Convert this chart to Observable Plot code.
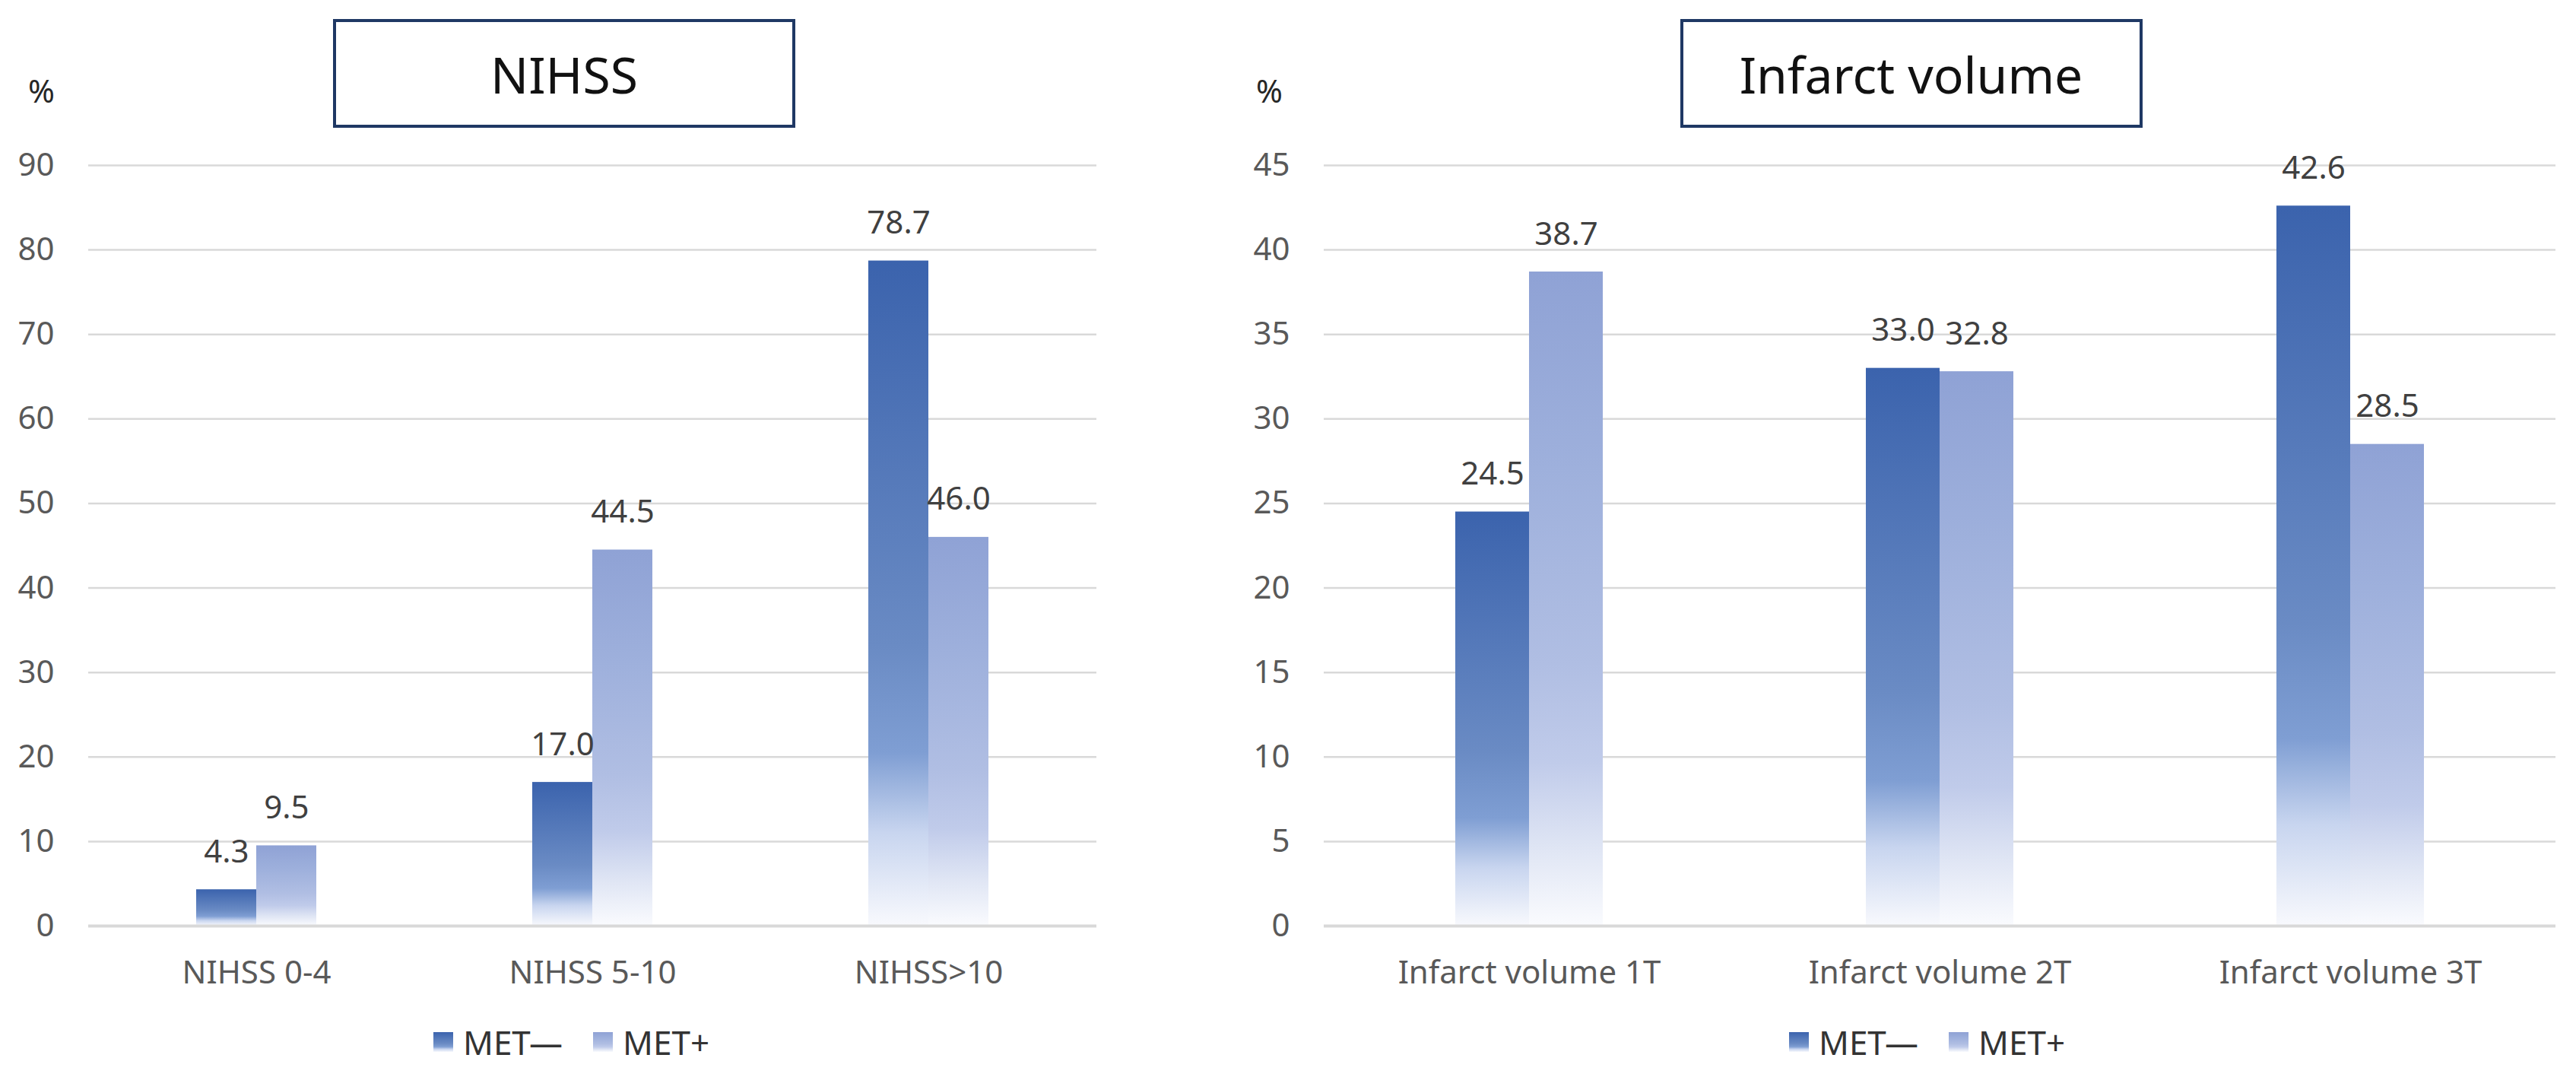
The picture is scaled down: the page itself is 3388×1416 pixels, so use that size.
<!DOCTYPE html>
<html>
<head>
<meta charset="utf-8">
<script src="https://cdn.jsdelivr.net/npm/d3@7"></script>
<script src="https://cdn.jsdelivr.net/npm/@observablehq/plot@0.6"></script>
<style>
  body { margin: 0; background: #fff; font-family: "Noto Sans", sans-serif; }
  #root { position: relative; width: 3388px; height: 1416px; overflow: hidden; }
  .panel { position: absolute; top: 0; height: 1416px; }
  .header { position: relative; height: 180px; }
  .titlebox { position: absolute; top: 25px; width: 608px; height: 143px; box-sizing: border-box;
    border: 4px solid #1f3864; display: flex; align-items: center; justify-content: center;
    font-size: 66px; color: #111; line-height: 1; }
  .pct { position: absolute; top: 98px; font-size: 42px; line-height: 1; color: #262626; }
  .legend { position: absolute; top: 1348px; display: flex; align-items: center; font-size: 44px;
    line-height: 1; color: #333; white-space: nowrap; }
  .sw { width: 26px; height: 26px; margin-right: 13px; }
  .item { display: flex; align-items: center; margin-right: 40px; }
  svg { display: block; }
</style>
</head>
<body>
<div id="root"></div>
<script>
// ---- data ----
const series = ["MET—", "MET+"];
const nihssCategories = ["NIHSS 0-4", "NIHSS 5-10", "NIHSS>10"];
const nihssMetNeg = [4.3, 17.0, 78.7];
const nihssMetPos = [9.5, 44.5, 46.0];
const nihssTicks = [0, 10, 20, 30, 40, 50, 60, 70, 80, 90];
const infarctCategories = ["Infarct volume 1T", "Infarct volume 2T", "Infarct volume 3T"];
const infarctMetNeg = [24.5, 33.0, 42.6];
const infarctMetPos = [38.7, 32.8, 28.5];
const infarctTicks = [0, 5, 10, 15, 20, 25, 30, 35, 40, 45];

// ---- gradient styles ----
const negStops = [[0, "#3b63ad"], [0.58, "#6a8bc4"], [0.74, "#7f9ed3"], [0.86, "#c8d5ef"], [1, "#f8f9fd"]];
const posStops = [[0, "#8fa2d5"], [0.3, "#9eb0dc"], [0.6, "#b0bee3"], [0.75, "#c0cbea"], [0.88, "#dfe5f4"], [1, "#fafbfe"]];

function addDefs(svg, prefix) {
  const defs = d3.select(svg).insert("defs", ":first-child");
  [["neg", negStops], ["pos", posStops]].forEach(([k, stops]) => {
    const g = defs.append("linearGradient").attr("id", `${prefix}-${k}`)
      .attr("x1", 0).attr("y1", 0).attr("x2", 0).attr("y2", 1);
    stops.forEach(([o, c]) => g.append("stop").attr("offset", o).attr("stop-color", c));
  });
}
const cssGrad = stops => `linear-gradient(to bottom, ${stops.map(([o, c]) => `${c} ${o * 100}%`).join(", ")})`;

function makePanel(cfg) {
  const { cats, neg, pos, ticks, yMax, title, left, width, marginLeft, marginRight, pctLeft, legendLeft, prefix } = cfg;
  const rows = cats.flatMap((c, i) => [
    { category: c, series: series[0], value: neg[i] },
    { category: c, series: series[1], value: pos[i] }
  ]);
  const panel = document.createElement("div");
  panel.className = "panel";
  panel.style.left = left + "px";
  panel.style.width = width + "px";

  const header = document.createElement("div");
  header.className = "header";
  const tb = document.createElement("div");
  tb.className = "titlebox";
  tb.textContent = title;
  // centre of box slightly left of plot centre, as in the reference
  const plotCenter = marginLeft + (width - marginLeft - marginRight) / 2;
  tb.style.left = (plotCenter - 37 - 304) + "px";
  header.appendChild(tb);
  const pct = document.createElement("div");
  pct.className = "pct";
  pct.textContent = "%";
  pct.style.left = pctLeft + "px";
  header.appendChild(pct);
  panel.appendChild(header);

  const svg = Plot.plot({
    width,
    height: 1140,
    marginTop: 37,
    marginBottom: 103,
    marginLeft,
    marginRight,
    style: { fontFamily: "'Noto Sans', sans-serif", fontSize: "42px", color: "#595959", background: "transparent", overflow: "visible" },
    fx: { domain: cats, padding: 0, label: null, tickSize: 0, tickPadding: 46, axis: "bottom" },
    x: { domain: series, paddingInner: 0, paddingOuter: 1.77, axis: null },
    y: { domain: [0, yMax] },
    marks: [
      Plot.gridY(ticks, { stroke: "#d9d9d9", strokeOpacity: 1, strokeWidth: 2.5 }),
      Plot.axisY(ticks, { tickSize: 0, tickPadding: 45, label: null, fill: "#595959" }),
      Plot.barY(rows, { filter: d => d.series === series[0], fx: "category", x: "series", y: "value", fill: `url(#${prefix}-neg)` }),
      Plot.barY(rows, { filter: d => d.series === series[1], fx: "category", x: "series", y: "value", fill: `url(#${prefix}-pos)` }),
      Plot.ruleY([0], { stroke: "#d9d9d9", strokeWidth: 4 }),
      Plot.text(rows, { fx: "category", x: "series", y: "value", text: d => d.value.toFixed(1),
        dy: -36, lineAnchor: "bottom", fontSize: 42, fill: "#404040" })
    ]
  });
  addDefs(svg, prefix);
  panel.appendChild(svg);

  const legend = document.createElement("div");
  legend.className = "legend";
  legend.style.left = legendLeft + "px";
  [[series[0], negStops], [series[1], posStops]].forEach(([name, stops]) => {
    const it = document.createElement("div");
    it.className = "item";
    const sw = document.createElement("div");
    sw.className = "sw";
    sw.style.background = cssGrad(stops);
    const tx = document.createElement("span");
    tx.textContent = name;
    it.appendChild(sw); it.appendChild(tx);
    legend.appendChild(it);
  });
  panel.appendChild(legend);
  document.getElementById("root").appendChild(panel);
}

makePanel({ cats: nihssCategories, neg: nihssMetNeg, pos: nihssMetPos, ticks: nihssTicks, yMax: 90,
  title: "NIHSS", left: 0, width: 1620, marginLeft: 116, marginRight: 178, pctLeft: 37, legendLeft: 570, prefix: "g1" });
makePanel({ cats: infarctCategories, neg: infarctMetNeg, pos: infarctMetPos, ticks: infarctTicks, yMax: 45,
  title: "Infarct volume", left: 1620, width: 1768, marginLeft: 120, marginRight: 27, pctLeft: 32, legendLeft: 733, prefix: "g2" });
</script>
</body>
</html>
